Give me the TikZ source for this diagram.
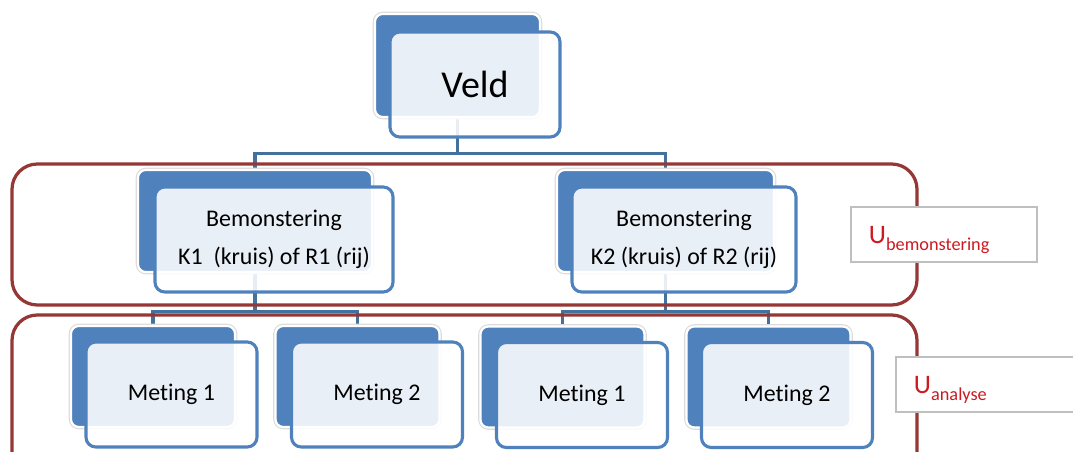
\documentclass[tikz,border=0pt]{standalone}
\usepackage{fontspec}
\setmainfont{Carlito}[Ligatures=NoCommon]
\usetikzlibrary{positioning,backgrounds}

\definecolor{boxblue}{HTML}{4F81BD}
\definecolor{linkblue}{HTML}{41719C}
\definecolor{bandred}{HTML}{953735}
\definecolor{ured}{HTML}{CC1A20}

\begin{document}
\begin{tikzpicture}[
  x=0.025cm, y=-0.025cm,
  every node/.style={font=\fontsize{17}{27}\selectfont},
  back/.style={fill=boxblue, draw=white, line width=1.6pt, rounded corners=5.5pt,
    preaction={draw=black!14, line width=3.2pt}},
  front/.style={draw=boxblue, line width=2.2pt, rounded corners=7pt, fill=white,
    fill opacity=0.88, text opacity=1, align=center},
  link/.style={draw=linkblue, line width=2.2pt},
  band/.style={draw=bandred, line width=2.3pt, rounded corners=18pt},
  ubox/.style={draw=black!25, line width=1.4pt, fill=white, text=ured, anchor=west,
    text width=3.75cm, inner xsep=0.45cm, align=left, minimum height=1.375cm,
    text height=12.5pt, text depth=0pt}
]
\useasboundingbox (0,0) rectangle (1073,452);
\clip (0,0) rectangle (1073,452);
% Top
\node[back, minimum width=4.125cm, minimum height=2.575cm] (veldb) at (457.5,65.5) {};
\node[front, minimum width=4.25cm, minimum height=2.625cm, font=\fontsize{27}{30}\selectfont] (veld) at (475,84.5) {Veld};
% Bemonstering
\node[back, minimum width=5.85cm, minimum height=2.55cm] (bem1b) at (255,221) {};
\node[front, minimum width=5.95cm, minimum height=2.625cm] (bem1) at (274,239.5) {Bemonstering\\K1\ \ (kruis) of R1 (rij)};
\node[back, minimum width=5.425cm, minimum height=2.55cm] (bem2b) at (665.5,221) {};
\node[front, minimum width=5.6cm, minimum height=2.625cm] (bem2) at (684,239.5) {Bemonstering\\K2 (kruis) of R2 (rij)};
% Metingen
\node[back, minimum width=4.1cm, minimum height=2.525cm] (met1b) at (153,376.5) {};
\node[front, minimum width=4.275cm, minimum height=2.625cm] (met1) at (171.5,394.5) {Meting 1};
\node[back, minimum width=4.1cm, minimum height=2.525cm] (met2b) at (357.5,376.5) {};
\node[front, minimum width=4.275cm, minimum height=2.625cm] (met2) at (377,394.5) {Meting 2};
\node[back, minimum width=4.1cm, minimum height=2.525cm] (met3b) at (562.5,377) {};
\node[front, minimum width=4.275cm, minimum height=2.625cm] (met3) at (582,395) {Meting 1};
\node[back, minimum width=4.1cm, minimum height=2.525cm] (met4b) at (768.5,377) {};
\node[front, minimum width=4.275cm, minimum height=2.625cm] (met4) at (787,395) {Meting 2};
% Connectors and bands behind
\begin{scope}[on background layer]
\draw[link] (veldb.south) -- ++(0,35) -| (bem1b.north);
\draw[link] (veldb.south) -- ++(0,35) -| (bem2b.north);
\draw[link] (bem1b.south) -- ++(0,38) -| (met1b.north);
\draw[link] (bem1b.south) -- ++(0,38) -| (met2b.north);
\draw[link] (bem2b.south) -- ++(0,38) -| (met3b.north);
\draw[link] (bem2b.south) -- ++(0,38) -| (met4b.north);
\draw[band] (12,164) rectangle (917,305);
\draw[band] (12,315) rectangle (917,480);
\end{scope}
% Uncertainty labels
\node[ubox] (ubem) at (850,234.5) {{\fontsize{19}{19}\selectfont U}\raisebox{-5pt}{\fontsize{13}{14}\selectfont bemonstering}};
\node[ubox] (uana) at (895,384.5) {{\fontsize{19}{19}\selectfont U}\raisebox{-5pt}{\fontsize{13}{14}\selectfont analyse}};
\end{tikzpicture}
\end{document}
